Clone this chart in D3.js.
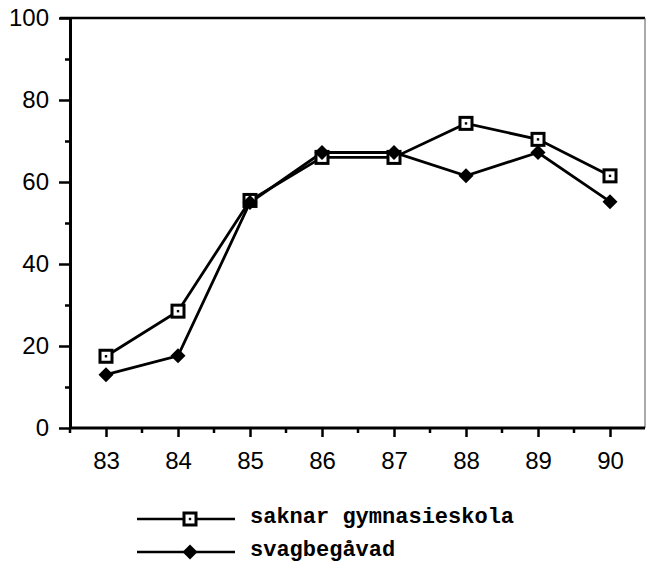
<!DOCTYPE html>
<html>
<head>
<meta charset="utf-8">
<script src="https://cdn.jsdelivr.net/npm/d3@7"></script>
<style>
  html, body { margin: 0; padding: 0; background: #fff; }
  svg { display: block; }
</style>
</head>
<body>
<svg id="chart" width="646" height="562"></svg>
<script>
const years = ["83", "84", "85", "86", "87", "88", "89", "90"];
const saknarGymnasieskola = [17.5, 28.5, 55.5, 66, 66, 74.3, 70.4, 61.5];
const svagbegavad = [13, 17.6, 55, 67.2, 67.2, 61.5, 67.2, 55.2];
const yTicks = [0, 20, 40, 60, 80, 100];
const yMinorTicks = [10, 30, 50, 70, 90];
const seriesNames = ["saknar gymnasieskola", "svagbegåvad"];

(function () {
const svg = d3.select("#chart");
const mLeft = 70, mRight = 645, mTop = 18, mBottom = 428;

const x = d3.scalePoint().domain(years).range([106, 610]);
const y = d3.scaleLinear().domain([0, 100]).range([mBottom, mTop]);

const ink = "#000";

// frame: top line & right line
svg.append("line").attr("x1", mLeft - 10).attr("x2", mRight).attr("y1", mTop).attr("y2", mTop)
  .attr("stroke", ink).attr("stroke-width", 2.5);
svg.append("line").attr("x1", mRight).attr("x2", mRight).attr("y1", mTop).attr("y2", mBottom)
  .attr("stroke", "#555").attr("stroke-width", 1);

// Y axis
const yAxis = d3.axisLeft(y).tickValues(yTicks).tickSize(11).tickPadding(6).tickSizeOuter(0);
const gy = svg.append("g").attr("transform", `translate(${mLeft},0)`).call(yAxis);
gy.select(".domain").attr("stroke", ink).attr("stroke-width", 3);
gy.selectAll(".tick line").attr("stroke", ink).attr("stroke-width", 2.5);
gy.selectAll(".tick text").attr("font-family", "Liberation Sans, Arial, sans-serif")
  .attr("font-size", 24).attr("fill", ink).attr("x", -21);
const yMinor = d3.axisLeft(y).tickValues(yMinorTicks).tickSize(5).tickFormat("");
const gym = svg.append("g").attr("transform", `translate(${mLeft},0)`).call(yMinor);
gym.select(".domain").remove();
gym.selectAll(".tick line").attr("stroke", ink).attr("stroke-width", 2.5);

// X axis
const xAxis = d3.axisBottom(x).tickSize(9).tickPadding(15).tickSizeOuter(0);
const gx = svg.append("g").attr("transform", `translate(0,${mBottom})`).call(xAxis);
gx.select(".domain").attr("d", `M${mLeft},0H${mRight}`).attr("stroke", ink).attr("stroke-width", 3);
gx.selectAll(".tick line").attr("stroke", ink).attr("stroke-width", 2.5);
gx.selectAll(".tick text").attr("font-family", "Liberation Sans, Arial, sans-serif")
  .attr("font-size", 24).attr("fill", ink);
// minor x ticks between categories
const step = x.step();
const minorX = years.slice(0, -1).map(d => x(d) + step / 2);
svg.append("g").selectAll("line").data([x(years[0]) - step / 2, ...minorX]).join("line")
  .attr("x1", d => d).attr("x2", d => d).attr("y1", mBottom).attr("y2", mBottom + 5)
  .attr("stroke", ink).attr("stroke-width", 2.5);

const line = d3.line().x((d, i) => x(years[i])).y(d => y(d));

function squareMarker(g, cx, cy) {
  g.append("rect").attr("x", cx - 6).attr("y", cy - 6).attr("width", 12).attr("height", 12)
    .attr("fill", "#fff").attr("stroke", ink).attr("stroke-width", 3);
  g.append("rect").attr("x", cx - 1.2).attr("y", cy - 1.2).attr("width", 2.4).attr("height", 2.4)
    .attr("fill", ink);
}
function diamondMarker(g, cx, cy) {
  g.append("path").attr("d", `M${cx},${cy - 7.5}L${cx + 7.5},${cy}L${cx},${cy + 7.5}L${cx - 7.5},${cy}Z`)
    .attr("fill", ink);
}

// series lines
svg.append("path").datum(saknarGymnasieskola).attr("d", line)
  .attr("fill", "none").attr("stroke", ink).attr("stroke-width", 2.8);
svg.append("path").datum(svagbegavad).attr("d", line)
  .attr("fill", "none").attr("stroke", ink).attr("stroke-width", 2.8);

const gm1 = svg.append("g");
saknarGymnasieskola.forEach((v, i) => squareMarker(gm1, x(years[i]), y(v)));
const gm2 = svg.append("g");
svagbegavad.forEach((v, i) => diamondMarker(gm2, x(years[i]), y(v)));

// legend
const legend = svg.append("g");
const legRows = [519, 552];
legRows.forEach((ly, i) => {
  legend.append("line").attr("x1", 137).attr("x2", 235).attr("y1", ly).attr("y2", ly)
    .attr("stroke", ink).attr("stroke-width", 2.5);
  if (i === 0) squareMarker(legend, 190, ly); else diamondMarker(legend, 190, ly);
  legend.append("text").attr("x", 250).attr("y", ly + 4)
    .attr("font-family", "Liberation Mono, Courier New, monospace")
    .attr("font-weight", "bold").attr("font-size", 22).attr("fill", ink)
    .text(seriesNames[i]);
});
})();
</script>
</body>
</html>
